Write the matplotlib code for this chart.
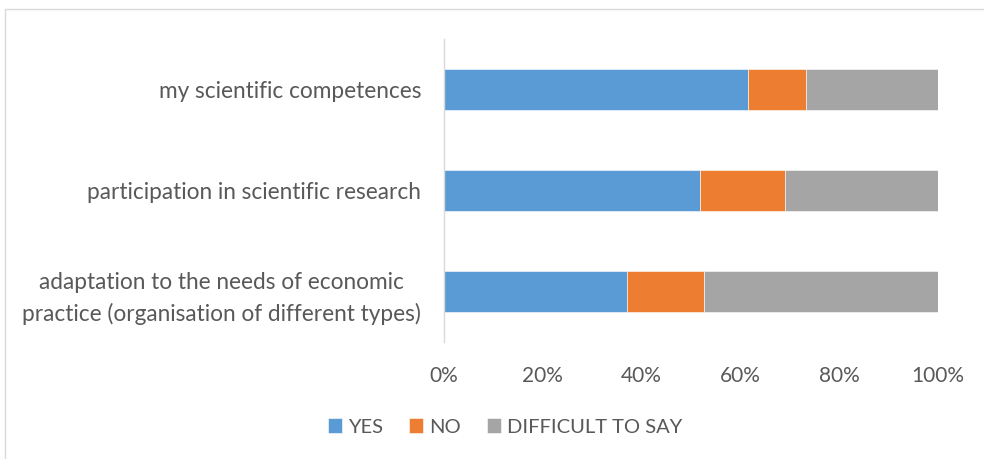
import matplotlib.pyplot as plt
from matplotlib.patches import Rectangle
from matplotlib.ticker import PercentFormatter

plt.rcParams['font.family'] = ['Lato', 'DejaVu Sans']

categories = [
    'adaptation to the needs of economic\npractice (organisation of different types)',
    'participation in scientific research',
    'my scientific competences',
]
yes = [37.1, 51.9, 61.6]
no = [15.6, 17.2, 11.6]
hard = [47.3, 30.9, 26.8]
series_names = ['YES', 'NO', 'DIFFICULT TO SAY']
colors = ['#5B9BD5', '#ED7D31', '#A5A5A5']
text_color = '#595959'

fig = plt.figure(figsize=(9.84, 4.59), dpi=100)
ax = fig.add_axes([444 / 984, 1 - 342 / 459, 494 / 984, 303 / 459])

left = [0] * len(categories)
for vals, name, col in zip([yes, no, hard], series_names, colors):
    ax.barh(categories, vals, left=left, height=0.4, color=col, label=name,
            edgecolor='white', linewidth=0.4)
    left = [a + b for a, b in zip(left, vals)]

ax.set_xlim(0, 100)
ax.set_ylim(-0.5, 2.5)
ax.set_xticks([0, 20, 40, 60, 80, 100])
ax.xaxis.set_major_formatter(PercentFormatter(decimals=0))

for s in ['top', 'right', 'bottom']:
    ax.spines[s].set_visible(False)
ax.spines['left'].set_color('#D9D9D9')
ax.spines['left'].set_linewidth(1)
ax.tick_params(axis='both', length=0, colors=text_color)
ax.tick_params(axis='x', pad=17, labelsize=15)
ax.tick_params(axis='y', pad=16.5, labelsize=16.3)
for lab in ax.get_yticklabels():
    lab.set_horizontalalignment('right')
    lab.set_multialignment('center')
    lab.set_linespacing(1.55)

fig.legend(loc='center', bbox_to_anchor=(505 / 984, 1 - 427 / 459), ncol=3,
           frameon=False, fontsize=14.5, labelcolor=text_color,
           handlelength=0.7, handleheight=0.7, handletextpad=0.3, columnspacing=1.3)

fig.patches.append(Rectangle((5 / 984, -0.1), 1.2, 1 - 9 / 459 + 0.1,
                             transform=fig.transFigure, fill=False,
                             edgecolor='#D9D9D9', linewidth=1))

fig.savefig('out.png', dpi=100)
